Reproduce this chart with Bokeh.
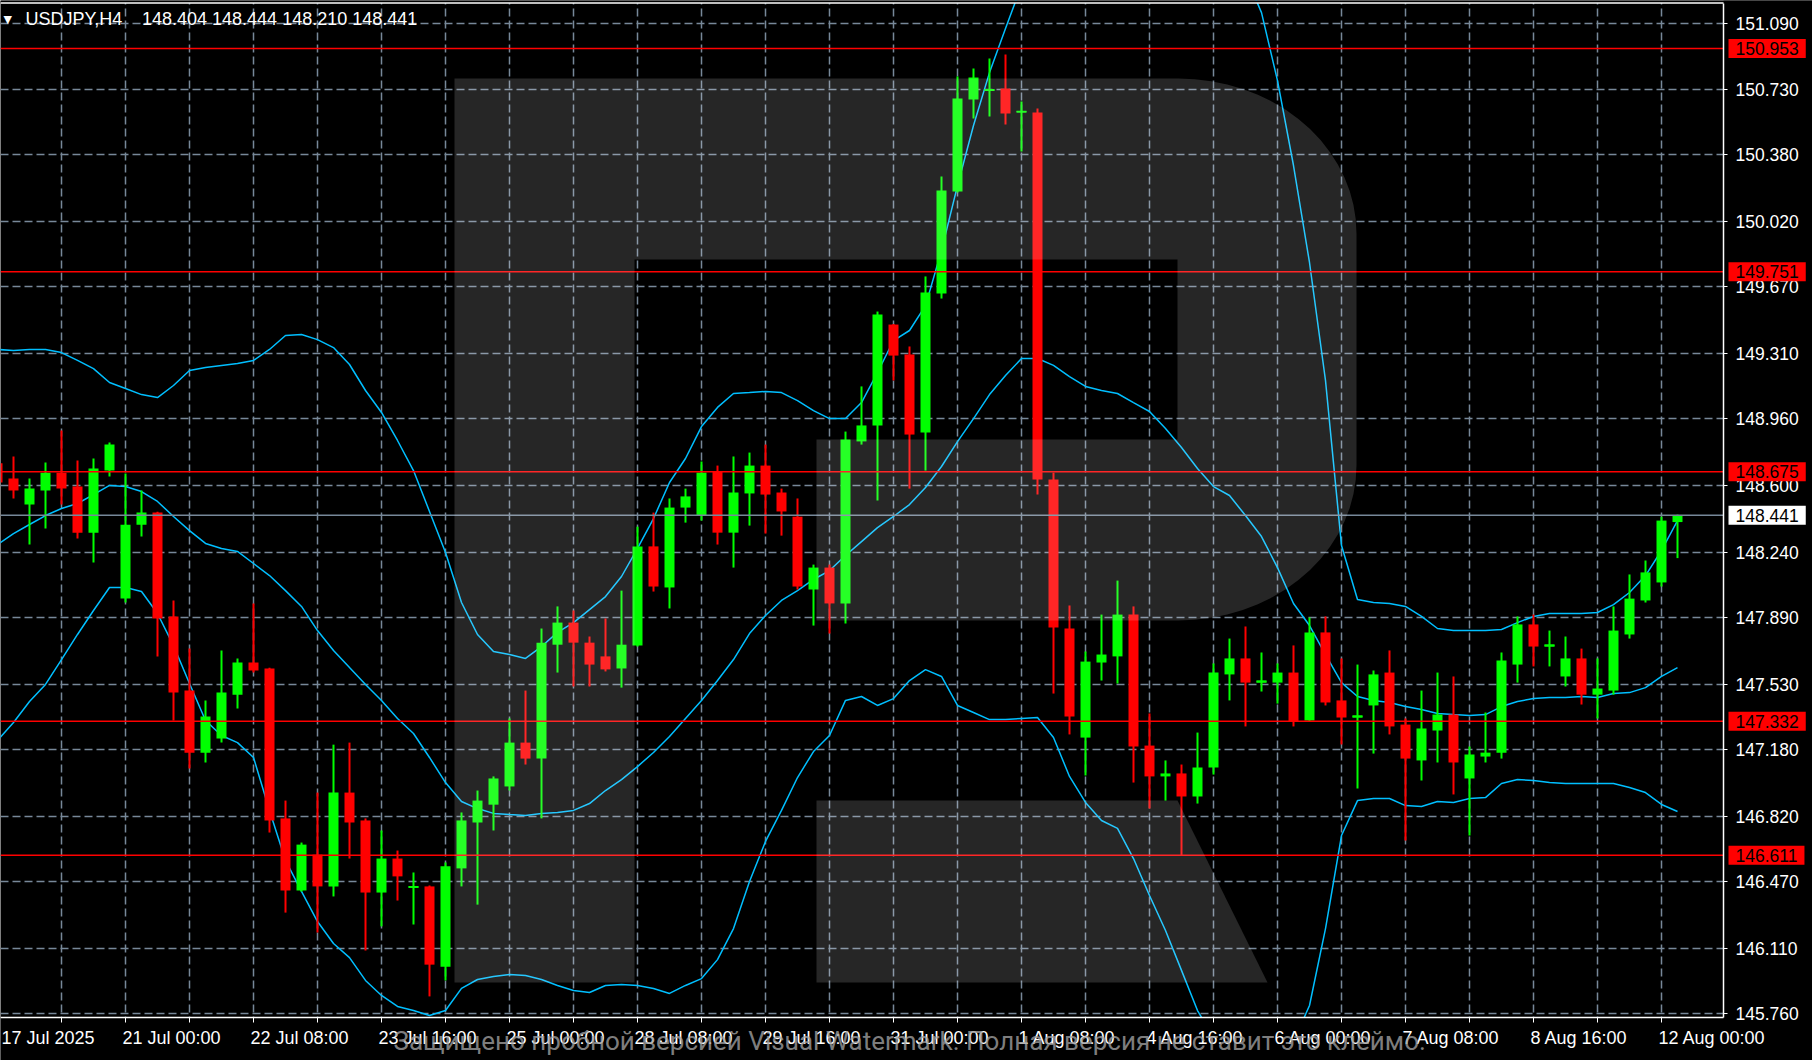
import numpy as np
from bokeh.plotting import figure
from bokeh.models import Range1d, FixedTicker, Label, PrintfTickFormatter, ColumnDataSource
from bokeh.embed import file_html
from bokeh.resources import INLINE

# ---------------- data ----------------
SYMBOL = "USDJPY"
TIMEFRAME = "H4"
FIRST_BAR = -1   # index of the first (partly hidden) bar; bar 7 = 21 Jul 00:00

OPEN = [148.720,
        148.638, 148.498, 148.574, 148.670, 148.595, 148.347, 148.681, 147.992, 148.390, 148.455,
        147.896, 147.497, 147.163, 147.239, 147.475, 147.648, 147.616, 146.809, 146.421, 146.614,
        146.443, 146.948, 146.798, 146.410, 146.593, 146.437, 146.443, 146.011, 146.540, 146.787,
        146.883, 146.981, 147.217, 147.131, 147.744, 147.863, 147.755, 147.681, 147.616, 147.739,
        148.273, 148.052, 148.482, 148.439, 148.676, 148.347, 148.558, 148.708, 148.563, 148.433,
        148.041, 148.159, 147.966, 148.838, 148.924, 149.467, 149.306, 148.886, 149.634, 150.183,
        150.678, 150.727, 150.737, 150.611, 150.608, 148.633, 147.831, 147.244, 147.648, 147.681,
        147.906, 147.201, 147.035, 147.051, 146.927, 147.083, 147.584, 147.670, 147.540, 147.540,
        147.594, 147.336, 147.810, 147.444, 147.352, 147.417, 147.594, 147.314, 147.121, 147.282,
        147.368, 147.024, 147.142, 147.163, 147.637, 147.853, 147.734, 147.573, 147.670, 147.475,
        147.497, 147.799, 147.982, 148.079, 148.404]
HIGH = [148.762,
        148.757, 148.638, 148.724, 148.897, 148.735, 148.746, 148.832, 148.665, 148.574, 148.460,
        147.982, 147.723, 147.444, 147.713, 147.670, 147.966, 147.620, 146.905, 146.679, 146.948,
        147.206, 147.217, 146.809, 146.744, 146.636, 146.518, 146.448, 146.572, 146.841, 146.959,
        147.035, 147.347, 147.497, 147.831, 147.950, 147.928, 147.788, 147.885, 148.035, 148.379,
        148.455, 148.531, 148.584, 148.730, 148.708, 148.757, 148.778, 148.821, 148.584, 148.531,
        148.175, 148.175, 148.891, 149.134, 149.537, 149.470, 149.349, 149.726, 150.264, 150.802,
        150.845, 150.899, 150.920, 150.667, 150.630, 148.670, 147.955, 147.707, 147.906, 148.089,
        147.950, 147.374, 147.121, 147.099, 147.271, 147.643, 147.777, 147.842, 147.702, 147.643,
        147.740, 147.890, 147.896, 147.670, 147.637, 147.605, 147.713, 147.347, 147.497, 147.594,
        147.573, 147.196, 147.379, 147.702, 147.896, 147.906, 147.820, 147.788, 147.723, 147.670,
        147.950, 148.122, 148.197, 148.433, 148.444]
LOW = [148.584,
       148.531, 148.283, 148.369, 148.498, 148.315, 148.186, 148.649, 147.971, 148.326, 147.681,
       147.336, 147.078, 147.110, 147.217, 147.401, 147.594, 146.733, 146.302, 146.415, 146.195,
       146.389, 146.593, 146.098, 146.228, 146.367, 146.238, 145.851, 145.937, 146.443, 146.345,
       146.744, 146.959, 147.099, 146.809, 147.594, 147.519, 147.519, 147.600, 147.513, 147.734,
       148.030, 147.939, 148.401, 148.412, 148.283, 148.159, 148.385, 148.342, 148.331, 148.041,
       147.847, 147.804, 147.858, 148.821, 148.520, 149.166, 148.584, 148.681, 149.607, 150.178,
       150.576, 150.587, 150.544, 150.398, 148.552, 147.481, 147.261, 147.040, 147.551, 147.535,
       147.002, 146.862, 146.905, 146.609, 146.889, 147.045, 147.444, 147.304, 147.492, 147.427,
       147.304, 147.331, 147.417, 147.207, 146.970, 147.158, 147.261, 146.690, 147.013, 147.110,
       146.938, 146.717, 147.110, 147.131, 147.540, 147.627, 147.627, 147.519, 147.422, 147.347,
       147.475, 147.777, 147.971, 148.057, 148.210]
CLOSE = [148.617,
         148.574, 148.584, 148.670, 148.584, 148.347, 148.692, 148.821, 148.390, 148.455, 147.885,
         147.486, 147.163, 147.358, 147.486, 147.648, 147.605, 146.798, 146.421, 146.668, 146.443,
         146.948, 146.787, 146.410, 146.593, 146.497, 146.443, 146.022, 146.551, 146.798, 146.905,
         147.024, 147.217, 147.131, 147.755, 147.863, 147.755, 147.637, 147.611, 147.744, 148.273,
         148.057, 148.482, 148.542, 148.670, 148.347, 148.563, 148.708, 148.552, 148.461, 148.057,
         148.159, 147.966, 148.848, 148.924, 149.521, 149.300, 148.875, 149.639, 150.188, 150.684,
         150.797, 150.732, 150.603, 150.615, 148.633, 147.836, 147.358, 147.653, 147.691, 147.906,
         147.196, 147.035, 147.051, 146.927, 147.083, 147.594, 147.670, 147.540, 147.551, 147.594,
         147.331, 147.810, 147.433, 147.352, 147.363, 147.584, 147.304, 147.131, 147.293, 147.368,
         147.110, 147.153, 147.163, 147.659, 147.853, 147.734, 147.745, 147.670, 147.475, 147.508,
         147.820, 147.992, 148.133, 148.412, 148.441]

BB_UPPER = [149.333,
            149.327, 149.333, 149.333, 149.316, 149.274, 149.230, 149.155, 149.123, 149.090, 149.074,
            149.139, 149.220, 149.236, 149.247, 149.257, 149.274, 149.333, 149.408, 149.413, 149.386,
            149.343, 149.252, 149.112, 148.994, 148.843, 148.681, 148.461, 148.240, 147.971, 147.799,
            147.707, 147.691, 147.670, 147.734, 147.810, 147.863, 147.933, 148.003, 148.111, 148.262,
            148.423, 148.617, 148.746, 148.918, 149.021, 149.096, 149.101, 149.107, 149.101, 149.058,
            149.004, 148.961, 148.961, 149.047, 149.209, 149.381, 149.435, 149.569, 149.865, 150.215,
            150.538, 150.823, 151.060, 151.292, 151.372, 151.426, 151.480, 151.507, 151.534, 151.534,
            151.534, 151.588, 151.615, 151.631, 151.615, 151.561, 151.480, 151.346, 151.146, 150.780,
            150.323, 149.801, 149.166, 148.278, 147.987, 147.971, 147.966, 147.950, 147.896, 147.831,
            147.820, 147.820, 147.820, 147.826, 147.863, 147.896, 147.912, 147.912, 147.912, 147.917,
            147.960, 148.025, 148.116, 148.251, 148.412]
BB_MIDDLE = [148.283,
             148.342, 148.391, 148.439, 148.477, 148.504, 148.552, 148.601, 148.595, 148.568, 148.515,
             148.434, 148.358, 148.289, 148.262, 148.246, 148.181, 148.116, 148.035, 147.950, 147.820,
             147.713, 147.621, 147.530, 147.444, 147.347, 147.266, 147.137, 147.002, 146.900, 146.862,
             146.836, 146.830, 146.825, 146.836, 146.841, 146.852, 146.889, 146.959, 147.018, 147.088,
             147.164, 147.250, 147.347, 147.444, 147.551, 147.664, 147.804, 147.901, 147.982, 148.035,
             148.095, 148.143, 148.224, 148.299, 148.374, 148.434, 148.498, 148.590, 148.703, 148.837,
             148.961, 149.090, 149.193, 149.284, 149.284, 149.247, 149.187, 149.134, 149.112, 149.096,
             149.047, 148.999, 148.907, 148.805, 148.692, 148.595, 148.547, 148.439, 148.326, 148.159,
             147.966, 147.847, 147.691, 147.540, 147.465, 147.444, 147.433, 147.411, 147.395, 147.374,
             147.368, 147.363, 147.368, 147.411, 147.438, 147.454, 147.460, 147.460, 147.465, 147.460,
             147.481, 147.486, 147.513, 147.573, 147.621]
BB_LOWER = [147.228,
            147.325, 147.438, 147.530, 147.664, 147.799, 147.928, 148.052, 148.052, 148.030, 147.912,
            147.739, 147.535, 147.336, 147.255, 147.217, 147.137, 146.852, 146.583, 146.416, 146.254,
            146.136, 146.060, 145.937, 145.856, 145.797, 145.775, 145.748, 145.775, 145.894, 145.942,
            145.958, 145.969, 145.963, 145.942, 145.910, 145.883, 145.872, 145.910, 145.915, 145.910,
            145.894, 145.867, 145.910, 145.947, 146.049, 146.216, 146.469, 146.685, 146.852, 147.029,
            147.169, 147.255, 147.444, 147.465, 147.417, 147.454, 147.551, 147.610, 147.573, 147.417,
            147.379, 147.341, 147.341, 147.347, 147.352, 147.244, 147.035, 146.895, 146.798, 146.755,
            146.593, 146.394, 146.206, 145.991, 145.775, 145.630, 145.614, 145.533, 145.506, 145.538,
            145.608, 145.802, 146.216, 146.717, 146.905, 146.916, 146.916, 146.878, 146.873, 146.900,
            146.895, 146.916, 146.921, 146.997, 147.018, 147.013, 147.002, 146.997, 146.997, 146.997,
            146.997, 146.975, 146.948, 146.884, 146.846]

LEVELS = [150.953, 149.751, 148.675, 147.332, 146.611]
PRICE_TICKS = [151.090, 150.730, 150.380, 150.020, 149.670, 149.310, 148.960, 148.600,
               148.240, 147.890, 147.530, 147.180, 146.820, 146.470, 146.110, 145.760]
TIME_TICKS = [7, 15, 23, 31, 39, 47, 55, 63, 71, 79, 87, 95, 103]
TIME_LABELS = ["21 Jul 00:00", "22 Jul 08:00", "23 Jul 16:00", "25 Jul 00:00", "28 Jul 08:00",
               "29 Jul 16:00", "31 Jul 00:00", "1 Aug 08:00", "4 Aug 16:00", "6 Aug 00:00",
               "7 Aug 08:00", "8 Aug 16:00", "12 Aug 00:00"]
FIRST_LABEL = "17 Jul 2025"
WATERMARK = "Защищено пробной версией Visual Watermark. Полная версия не ставит это клеймо."

# ---------------- layout (reference pixels) ----------------
PAGE_W, PAGE_H = 1812, 1060
FRAME_RIGHT, FRAME_BOTTOM, FRAME_TOP = 1723, 1017, 2.5
BAR0_PX, BAR_PX = 13.0, 16.0
PRICE_AT_Y0, PX_PER_PRICE = 151.2111, 185.8


def dx(px):
    return (px - BAR0_PX) / BAR_PX


def dy(py):
    return PRICE_AT_Y0 - py / PX_PER_PRICE


FONT = "Liberation Sans"
AXIS_FS = "17.5px"
TEXT_FS = "18px"
GRID = "#778899"
BULL, BEAR = "#00FF00", "#FF0000"
BAND = "#00BFFF"

o, h, l, c = (np.array(a, dtype=float) for a in (OPEN, HIGH, LOW, CLOSE))
x = np.arange(len(o)) + FIRST_BAR
colors = np.where(c >= o, BULL, BEAR)
BODY_W = 10 / BAR_PX

p = figure(width=PAGE_W, height=PAGE_H,
           x_range=Range1d(dx(0), dx(PAGE_W)),
           y_range=Range1d(dy(PAGE_H), dy(0)),
           y_axis_location="right", output_backend="svg", toolbar_location=None,
           tools="", title=None, min_border=0,
           min_border_left=0, min_border_top=0, min_border_right=0, min_border_bottom=0)
p.background_fill_color = "black"
p.border_fill_color = "black"
p.outline_line_color = None

grid_bars = list(range(3, int(x[-1]) + 1, 4))
p.xgrid.ticker = FixedTicker(ticks=grid_bars, minor_ticks=[])
p.ygrid.ticker = FixedTicker(ticks=PRICE_TICKS, minor_ticks=[])
p.grid.grid_line_color = GRID
p.grid.grid_line_dash = "8 4"
p.grid.grid_line_width = 1.5

# axes drawn at the chart's edges inside the canvas
p.yaxis.fixed_location = dx(FRAME_RIGHT)
p.yaxis.bounds = (dy(FRAME_BOTTOM), dy(FRAME_TOP))
p.yaxis.ticker = FixedTicker(ticks=PRICE_TICKS, minor_ticks=[])
p.yaxis.formatter = PrintfTickFormatter(format="%.3f")
p.xaxis.fixed_location = dy(FRAME_BOTTOM)
p.xaxis.bounds = (dx(0), dx(FRAME_RIGHT))
p.xaxis.ticker = FixedTicker(ticks=grid_bars, minor_ticks=[])
p.xaxis.major_label_overrides = {float(t): "" for t in grid_bars}
for ax in (p.xaxis, p.yaxis):
    ax.axis_line_color = "white"
    ax.axis_line_width = 1.5
    ax.major_tick_line_color = "white"
    ax.major_tick_in = 0
    ax.minor_tick_line_color = None
    ax.major_label_text_color = "white"
    ax.major_label_text_font = FONT
    ax.major_label_text_font_size = AXIS_FS
p.yaxis.major_tick_out = 4
p.yaxis.major_label_standoff = 8
p.xaxis.major_tick_out = 5

# Bollinger bands
p.line(x, BB_UPPER, line_color=BAND, line_width=1.5)
p.line(x, BB_MIDDLE, line_color=BAND, line_width=1.5)
p.line(x, BB_LOWER, line_color=BAND, line_width=1.5)

# candles
src = ColumnDataSource(dict(x=x, o=o, h=h, l=l, c=c, top=np.maximum(o, c),
                            bot=np.minimum(o, c), color=colors))
p.segment(x0="x", y0="l", x1="x", y1="h", line_color="color", line_width=2, source=src)
p.vbar(x="x", width=BODY_W, top="top", bottom="bot", fill_color="color",
       line_color=None, source=src)
doji = np.abs(c - o) < 0.012
dsrc = ColumnDataSource(dict(x0=x[doji] - BODY_W / 2, x1=x[doji] + BODY_W / 2,
                             y=(o[doji] + c[doji]) / 2, color=colors[doji]))
p.segment(x0="x0", y0="y", x1="x1", y1="y", line_color="color", line_width=2, source=dsrc)

# horizontal levels and bid line (across the chart area)
lv_src = ColumnDataSource(dict(x0=[dx(0)] * len(LEVELS), x1=[dx(FRAME_RIGHT)] * len(LEVELS),
                               y=LEVELS))
p.segment(x0="x0", y0="y", x1="x1", y1="y", line_color="#FF0000", line_width=1.5, source=lv_src)
p.segment(x0=[dx(0)], y0=[CLOSE[-1]], x1=[dx(FRAME_RIGHT)], y1=[CLOSE[-1]],
          line_color=GRID, line_width=1.5)

# watermark logo "R" (semi-transparent overlay)
def corner(cx, cy, rx, ry, a0, a1, n=18):
    t = np.radians(np.linspace(a0, a1, n))
    return list(cx + rx * np.cos(t)), list(cy - ry * np.sin(t))

trx, trY = corner(1178, 233, 178, 155, 90, 0)
brx, brY = corner(1178, 465, 178, 155, 0, -90)
r_px = [454] + trx + brx + [816, 816, 1177, 1177, 634, 634, 454]
r_py = [78] + trY + brY + [620, 439, 439, 259, 259, 982, 982]
leg_px = [816, 1177, 1267, 816]
leg_py = [800, 800, 982, 982]
p.patches(xs=[[dx(v) for v in r_px], [dx(v) for v in leg_px]],
          ys=[[dy(v) for v in r_py], [dy(v) for v in leg_py]],
          fill_color="white", fill_alpha=0.15, line_color=None)

# black margins around the chart area (price scale, time scale, top strip)
p.quad(left=[dx(FRAME_RIGHT), dx(0), dx(0)],
       right=[dx(PAGE_W), dx(PAGE_W), dx(PAGE_W)],
       bottom=[dy(PAGE_H), dy(PAGE_H), dy(FRAME_TOP)],
       top=[dy(0), dy(FRAME_BOTTOM), dy(0)],
       fill_color="black", line_color=None)
# top border of the chart window
p.segment(x0=[dx(0)], y0=[dy(FRAME_TOP)], x1=[dx(FRAME_RIGHT)], y1=[dy(FRAME_TOP)],
          line_color="white", line_width=1.5)

# price boxes on the right scale
def price_box(val, bg):
    return Label(x=dx(1728), y=val, text=f"{val:.3f}", text_color="black",
                 text_font=FONT, text_font_size=AXIS_FS, text_align="left",
                 text_baseline="middle", background_fill_color=bg, padding=(7, 3))

for lv in LEVELS:
    p.add_layout(price_box(lv, "#FF0000"))
p.add_layout(price_box(CLOSE[-1], "white"))

# time labels
time_y = dy(1037)
for t, s in zip(TIME_TICKS, TIME_LABELS):
    p.add_layout(Label(x=t - 3 / BAR_PX, y=time_y, text=s, text_color="white",
                       text_font=FONT, text_font_size=TEXT_FS, text_align="left",
                       text_baseline="middle"))
p.add_layout(Label(x=dx(1), y=time_y, text=FIRST_LABEL, text_color="white",
                   text_font=FONT, text_font_size=TEXT_FS, text_align="left",
                   text_baseline="middle"))

# title
title_y = dy(18.5)
p.add_layout(Label(x=dx(3), y=title_y, text="\u25BC", text_color="white",
                   text_font="DejaVu Sans", text_font_size="11px", text_align="left",
                   text_baseline="middle"))
p.add_layout(Label(x=dx(25), y=title_y, text=f"{SYMBOL},{TIMEFRAME}", text_color="white",
                   text_font=FONT, text_font_size=TEXT_FS, text_align="left",
                   text_baseline="middle"))
p.add_layout(Label(x=dx(141.5), y=title_y,
                   text=f"{OPEN[-1]:.3f} {HIGH[-1]:.3f} {LOW[-1]:.3f} {CLOSE[-1]:.3f}",
                   text_color="white", text_font=FONT, text_font_size=TEXT_FS,
                   text_align="left", text_baseline="middle"))

# trial watermark text
p.add_layout(Label(x=dx(393), y=dy(1040), text=WATERMARK, text_color="#a0a0a0",
                   text_alpha=0.8, text_font="Roboto", text_font_size="26px",
                   text_align="left", text_baseline="middle"))

open("out.html", "w").write(file_html(p, INLINE))
